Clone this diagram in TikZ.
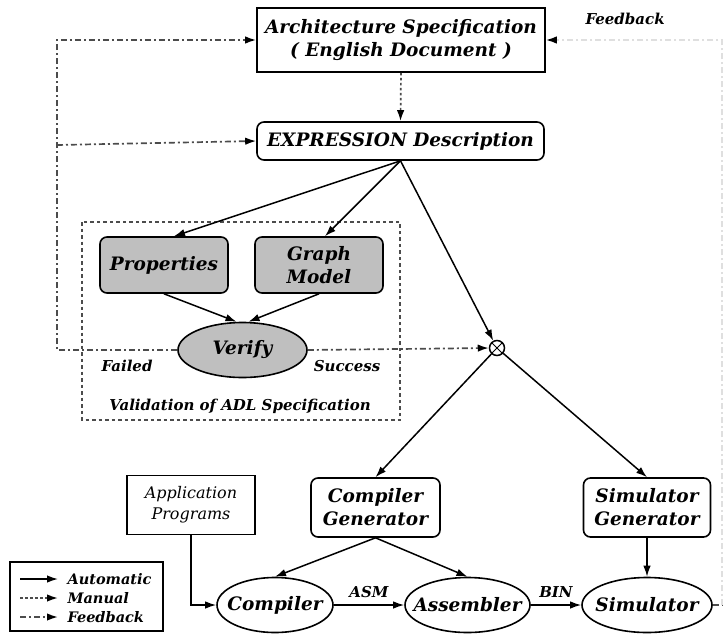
\documentclass[tikz,border=0pt]{standalone}
\usepackage{fontspec}
\setmainfont{DejaVu Serif}
\usetikzlibrary{shapes.geometric,arrows.meta}
\begin{document}
\begin{tikzpicture}[x=1pt,y=-1pt,
  lbl/.style={font=\fontsize{18.5}{23}\selectfont\bfseries\itshape},
  sml/.style={font=\fontsize{15}{17}\selectfont\bfseries\itshape},
  leg/.style={font=\fontsize{14.5}{16}\selectfont\bfseries\itshape},
  plainbox/.style={draw,line width=1.6pt,lbl,align=center,inner sep=0pt},
  roundbox/.style={plainbox,rounded corners=7pt},
  graybox/.style={roundbox,fill=gray!50},
  oval/.style={draw,line width=1.6pt,ellipse,lbl,inner sep=0pt,minimum width=116pt,minimum height=55pt},
  tip/.style={-{Latex[length=11pt,width=7.5pt,color=black]}},
  auto/.style={line width=1.5pt,tip},
  manual/.style={line width=1.7pt,gray!60!black,dash pattern=on 2.5pt off 2.5pt,tip},
  fbline/.style={line width=1.7pt,gray!60!black,dash pattern=on 6pt off 3pt on 2pt off 3pt},
  fb/.style={fbline,tip},
]
\useasboundingbox (0,0) rectangle (728,635);

% specification and description
\node[plainbox,minimum width=288pt,minimum height=64pt] (arch) at (401,40)
  {Architecture Specification\\( English Document )};
\node[roundbox,minimum width=287pt,minimum height=38pt] (expr) at (400.5,141)
  {EXPRESSION Description};
\node[sml,anchor=west] (fblabel) at (582,19) {Feedback};

% validation block
\draw[line width=1.6pt,gray!60!black,dash pattern=on 3.5pt off 3pt] (82,222) rectangle (400,420);
\node[graybox,minimum width=128pt,minimum height=56pt] (prop) at (164,265) {Properties};
\node[graybox,minimum width=128pt,minimum height=56pt] (graph) at (319,265) {Graph\\Model};
\node[oval,fill=gray!50,minimum width=129pt] (verify) at (242.5,350) {\makebox[0pt]{Verify}};
\node[sml] (failed) at (127,366) {Failed};
\node[sml] (success) at (347,366) {Success};
\node[sml] (valid) at (240,406) {Validation of ADL Specification};

% join point
\node[draw,line width=1.5pt,circle,minimum size=15pt,inner sep=0pt] (join) at (497,348) {};
\draw[line width=0.9pt] (join.north west) -- (join.south east) (join.north east) -- (join.south west);

% generators and tools
\node[plainbox,font=\fontsize{16}{21}\selectfont\itshape,minimum width=128pt,minimum height=59pt] (app) at (191,505)
  {Application\\Programs};
\node[roundbox,minimum width=129pt,minimum height=59pt] (cgen) at (375.5,507.5) {Compiler\\Generator};
\node[roundbox,minimum width=127pt,minimum height=59pt] (sgen) at (647,507.5) {Simulator\\Generator};
\node[oval] (comp) at (275,605) {\makebox[0pt]{Compiler}};
\node[oval,minimum width=125pt] (asm) at (467.5,605) {\makebox[0pt]{Assembler}};
\node[oval,minimum width=130pt] (sim) at (647,605) {\makebox[0pt]{Simulator}};

% manual step
\draw[manual] (arch.south) -- (expr.north);

% automatic steps
\draw[auto] (expr.south) -- ([xshift=10pt]prop.north);
\draw[auto] (expr.south) -- ([xshift=6pt]graph.north);
\draw[auto] (expr.south) -- (join);
\draw[auto] (prop.south) -- ([xshift=-6pt]verify.north);
\draw[auto] (graph.south) -- ([xshift=6pt]verify.north);
\draw[auto] (join) -- (cgen.north);
\draw[auto] (join) -- (sgen.north);
\draw[auto] (cgen.south) -- (comp.north);
\draw[auto] (cgen.south) -- (asm.north);
\draw[auto] (sgen.south) -- (sim.north);
\draw[auto] (app.south) |- (comp.west);
\draw[auto] (comp.east) -- node[sml,above=3pt] {ASM} (asm.west);
\draw[auto] (asm.east) -- node[sml,above=3pt] {BIN} (sim.west);

% feedback paths
\coordinate (fl) at (57,350);
\coordinate (fr) at (722,605);
\draw[fb] (verify.west) -- (fl) |- (arch.west);
\draw[fb] (57,145) -- (expr.west);
\draw[fb] (verify.east) -- (join.west);
\draw[fbline] (sim.east) -- (fr);
\draw[fb,gray!25] (fr) |- (arch.east);

% legend
\draw[line width=1.6pt] (10,562) rectangle (163,631);
\draw[auto] (20,579) -- (58,579);
\draw[manual] (20,598) -- (58,598);
\draw[fb] (20,617) -- (58,617);
\node[leg,anchor=west] (la) at (64,579) {Automatic};
\node[leg,anchor=west] (lm) at (64,598) {Manual};
\node[leg,anchor=west] (lf) at (64,617) {Feedback};
\end{tikzpicture}
\end{document}
